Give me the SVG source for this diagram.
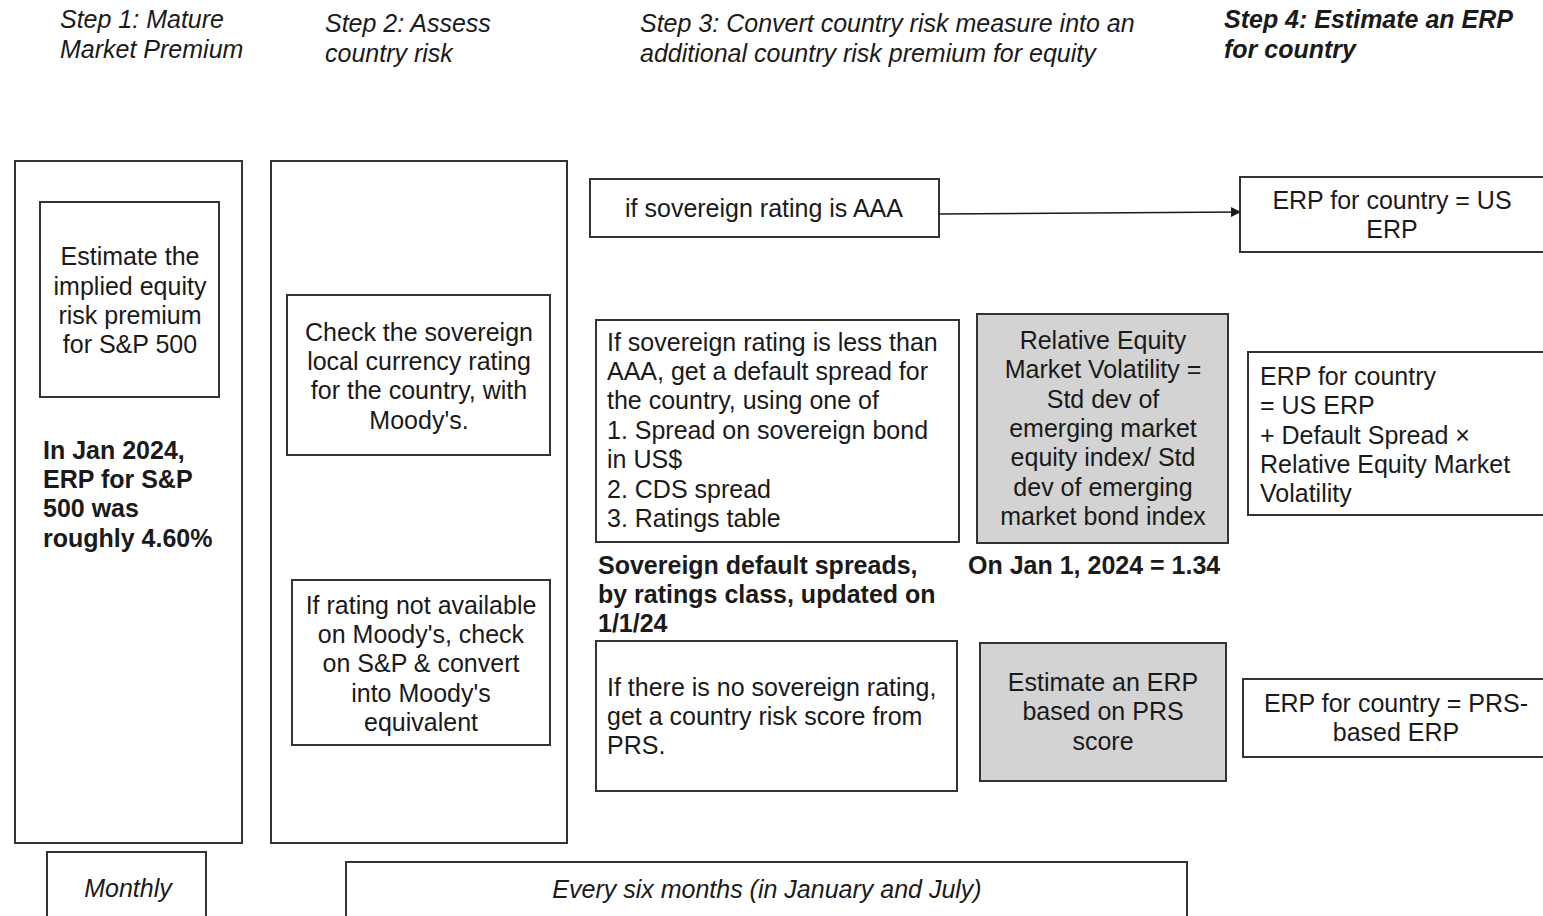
<svg xmlns="http://www.w3.org/2000/svg" width="1543" height="916" viewBox="0 0 1543 916">
<style>
text{font-family:"Liberation Sans",Arial,sans-serif;font-size:25px;fill:#1a1a1a}
.h{font-style:italic}
.hb{font-style:italic;font-weight:bold}
.b{font-weight:bold}
.c{text-anchor:middle}
.box{fill:#fff;stroke:#333;stroke-width:2}
.gray{fill:#d3d3d3;stroke:#333;stroke-width:2}
</style>
<defs>
<marker id="arr" markerWidth="10" markerHeight="10" refX="9" refY="5" orient="auto" markerUnits="userSpaceOnUse">
<path d="M0,0 L10,5 L0,10 Z" fill="#1a1a1a"/>
</marker>
</defs>
<rect width="1543" height="916" fill="#fff"/>
<g id="headers">
<text class="h" x="60" y="28">Step 1: Mature</text>
<text class="h" x="60" y="58">Market Premium</text>
<text class="h" x="325" y="32">Step 2: Assess</text>
<text class="h" x="325" y="62">country risk</text>
<text class="h" x="640" y="32">Step 3: Convert country risk measure into an</text>
<text class="h" x="640" y="62">additional country risk premium for equity</text>
<text class="hb" x="1224" y="28">Step 4: Estimate an ERP</text>
<text class="hb" x="1224" y="58">for country</text>
</g>
<g id="col1">
<rect class="box" x="15" y="161" width="227" height="682"/>
</g>
<g id="implied">
<rect class="box" x="40" y="202" width="179" height="195"/>
<text class="c" x="130" y="265">Estimate the</text>
<text class="c" x="130" y="295">implied equity</text>
<text class="c" x="130" y="324">risk premium</text>
<text class="c" x="130" y="353">for S&amp;P 500</text>
</g>
<g id="jan2024">
<text class="b" x="43" y="459">In Jan 2024,</text>
<text class="b" x="43" y="488">ERP for S&amp;P</text>
<text class="b" x="43" y="517">500 was</text>
<text class="b" x="43" y="547">roughly 4.60%</text>
</g>
<g id="col2">
<rect class="box" x="271" y="161" width="296" height="682"/>
</g>
<g id="check">
<rect class="box" x="287" y="295" width="263" height="160"/>
<text class="c" x="419" y="341">Check the sovereign</text>
<text class="c" x="419" y="370">local currency rating</text>
<text class="c" x="419" y="399">for the country, with</text>
<text class="c" x="419" y="429">Moody's.</text>
</g>
<g id="notavail">
<rect class="box" x="292" y="580" width="258" height="165"/>
<text class="c" x="421" y="614">If rating not available</text>
<text class="c" x="421" y="643">on Moody's, check</text>
<text class="c" x="421" y="672">on S&amp;P &amp; convert</text>
<text class="c" x="421" y="702">into Moody's</text>
<text class="c" x="421" y="731">equivalent</text>
</g>
<g id="aaa">
<rect class="box" x="590" y="179" width="349" height="58"/>
<text class="c" x="764" y="217">if sovereign rating is AAA</text>
</g>
<g id="usERP">
<rect class="box" x="1240" y="177" width="310" height="75"/>
<text class="c" x="1392" y="209">ERP for country = US</text>
<text class="c" x="1392" y="238">ERP</text>
</g>
<g id="lessAAA">
<rect class="box" x="596" y="320" width="363" height="222"/>
<text x="607" y="351">If sovereign rating is less than</text>
<text x="607" y="380">AAA, get a default spread for</text>
<text x="607" y="409">the country, using one of</text>
<text x="607" y="439">1. Spread on sovereign bond</text>
<text x="607" y="468">in US$</text>
<text x="607" y="498">2. CDS spread</text>
<text x="607" y="527">3. Ratings table</text>
</g>
<g id="relvol">
<rect class="gray" x="977" y="314" width="251" height="229"/>
<text class="c" x="1103" y="349">Relative Equity</text>
<text class="c" x="1103" y="378">Market Volatility =</text>
<text class="c" x="1103" y="408">Std dev of</text>
<text class="c" x="1103" y="437">emerging market</text>
<text class="c" x="1103" y="466">equity index/ Std</text>
<text class="c" x="1103" y="496">dev of emerging</text>
<text class="c" x="1103" y="525">market bond index</text>
</g>
<g id="formula">
<rect class="box" x="1248" y="352" width="302" height="163"/>
<text x="1260" y="385">ERP for country</text>
<text x="1260" y="414">= US ERP</text>
<text x="1260" y="444">+ Default Spread ×</text>
<text x="1260" y="473">Relative Equity Market</text>
<text x="1260" y="502">Volatility</text>
</g>
<g id="spreadsNote">
<text class="b" x="598" y="574">Sovereign default spreads,</text>
<text class="b" x="598" y="603">by ratings class, updated on</text>
<text class="b" x="598" y="632">1/1/24</text>
</g>
<g id="volNote">
<text class="b" x="968" y="574">On Jan 1, 2024 = 1.34</text>
</g>
<g id="norating">
<rect class="box" x="596" y="641" width="361" height="150"/>
<text x="607" y="696">If there is no sovereign rating,</text>
<text x="607" y="725">get a country risk score from</text>
<text x="607" y="754">PRS.</text>
</g>
<g id="prsEst">
<rect class="gray" x="980" y="643" width="246" height="138"/>
<text class="c" x="1103" y="691">Estimate an ERP</text>
<text class="c" x="1103" y="720">based on PRS</text>
<text class="c" x="1103" y="750">score</text>
</g>
<g id="prsERP">
<rect class="box" x="1243" y="679" width="307" height="78"/>
<text class="c" x="1396" y="712">ERP for country = PRS-</text>
<text class="c" x="1396" y="741">based ERP</text>
</g>
<g id="monthly">
<rect class="box" x="47" y="852" width="159" height="80"/>
<text class="h c" x="128" y="897">Monthly</text>
</g>
<g id="sixmonths">
<rect class="box" x="346" y="862" width="841" height="70"/>
<text class="h c" x="767" y="898">Every six months (in January and July)</text>
</g>
<g id="connectors">
<line x1="939" y1="214" x2="1240" y2="212" stroke="#1a1a1a" stroke-width="1.5" marker-end="url(#arr)"/>
</g>
</svg>
